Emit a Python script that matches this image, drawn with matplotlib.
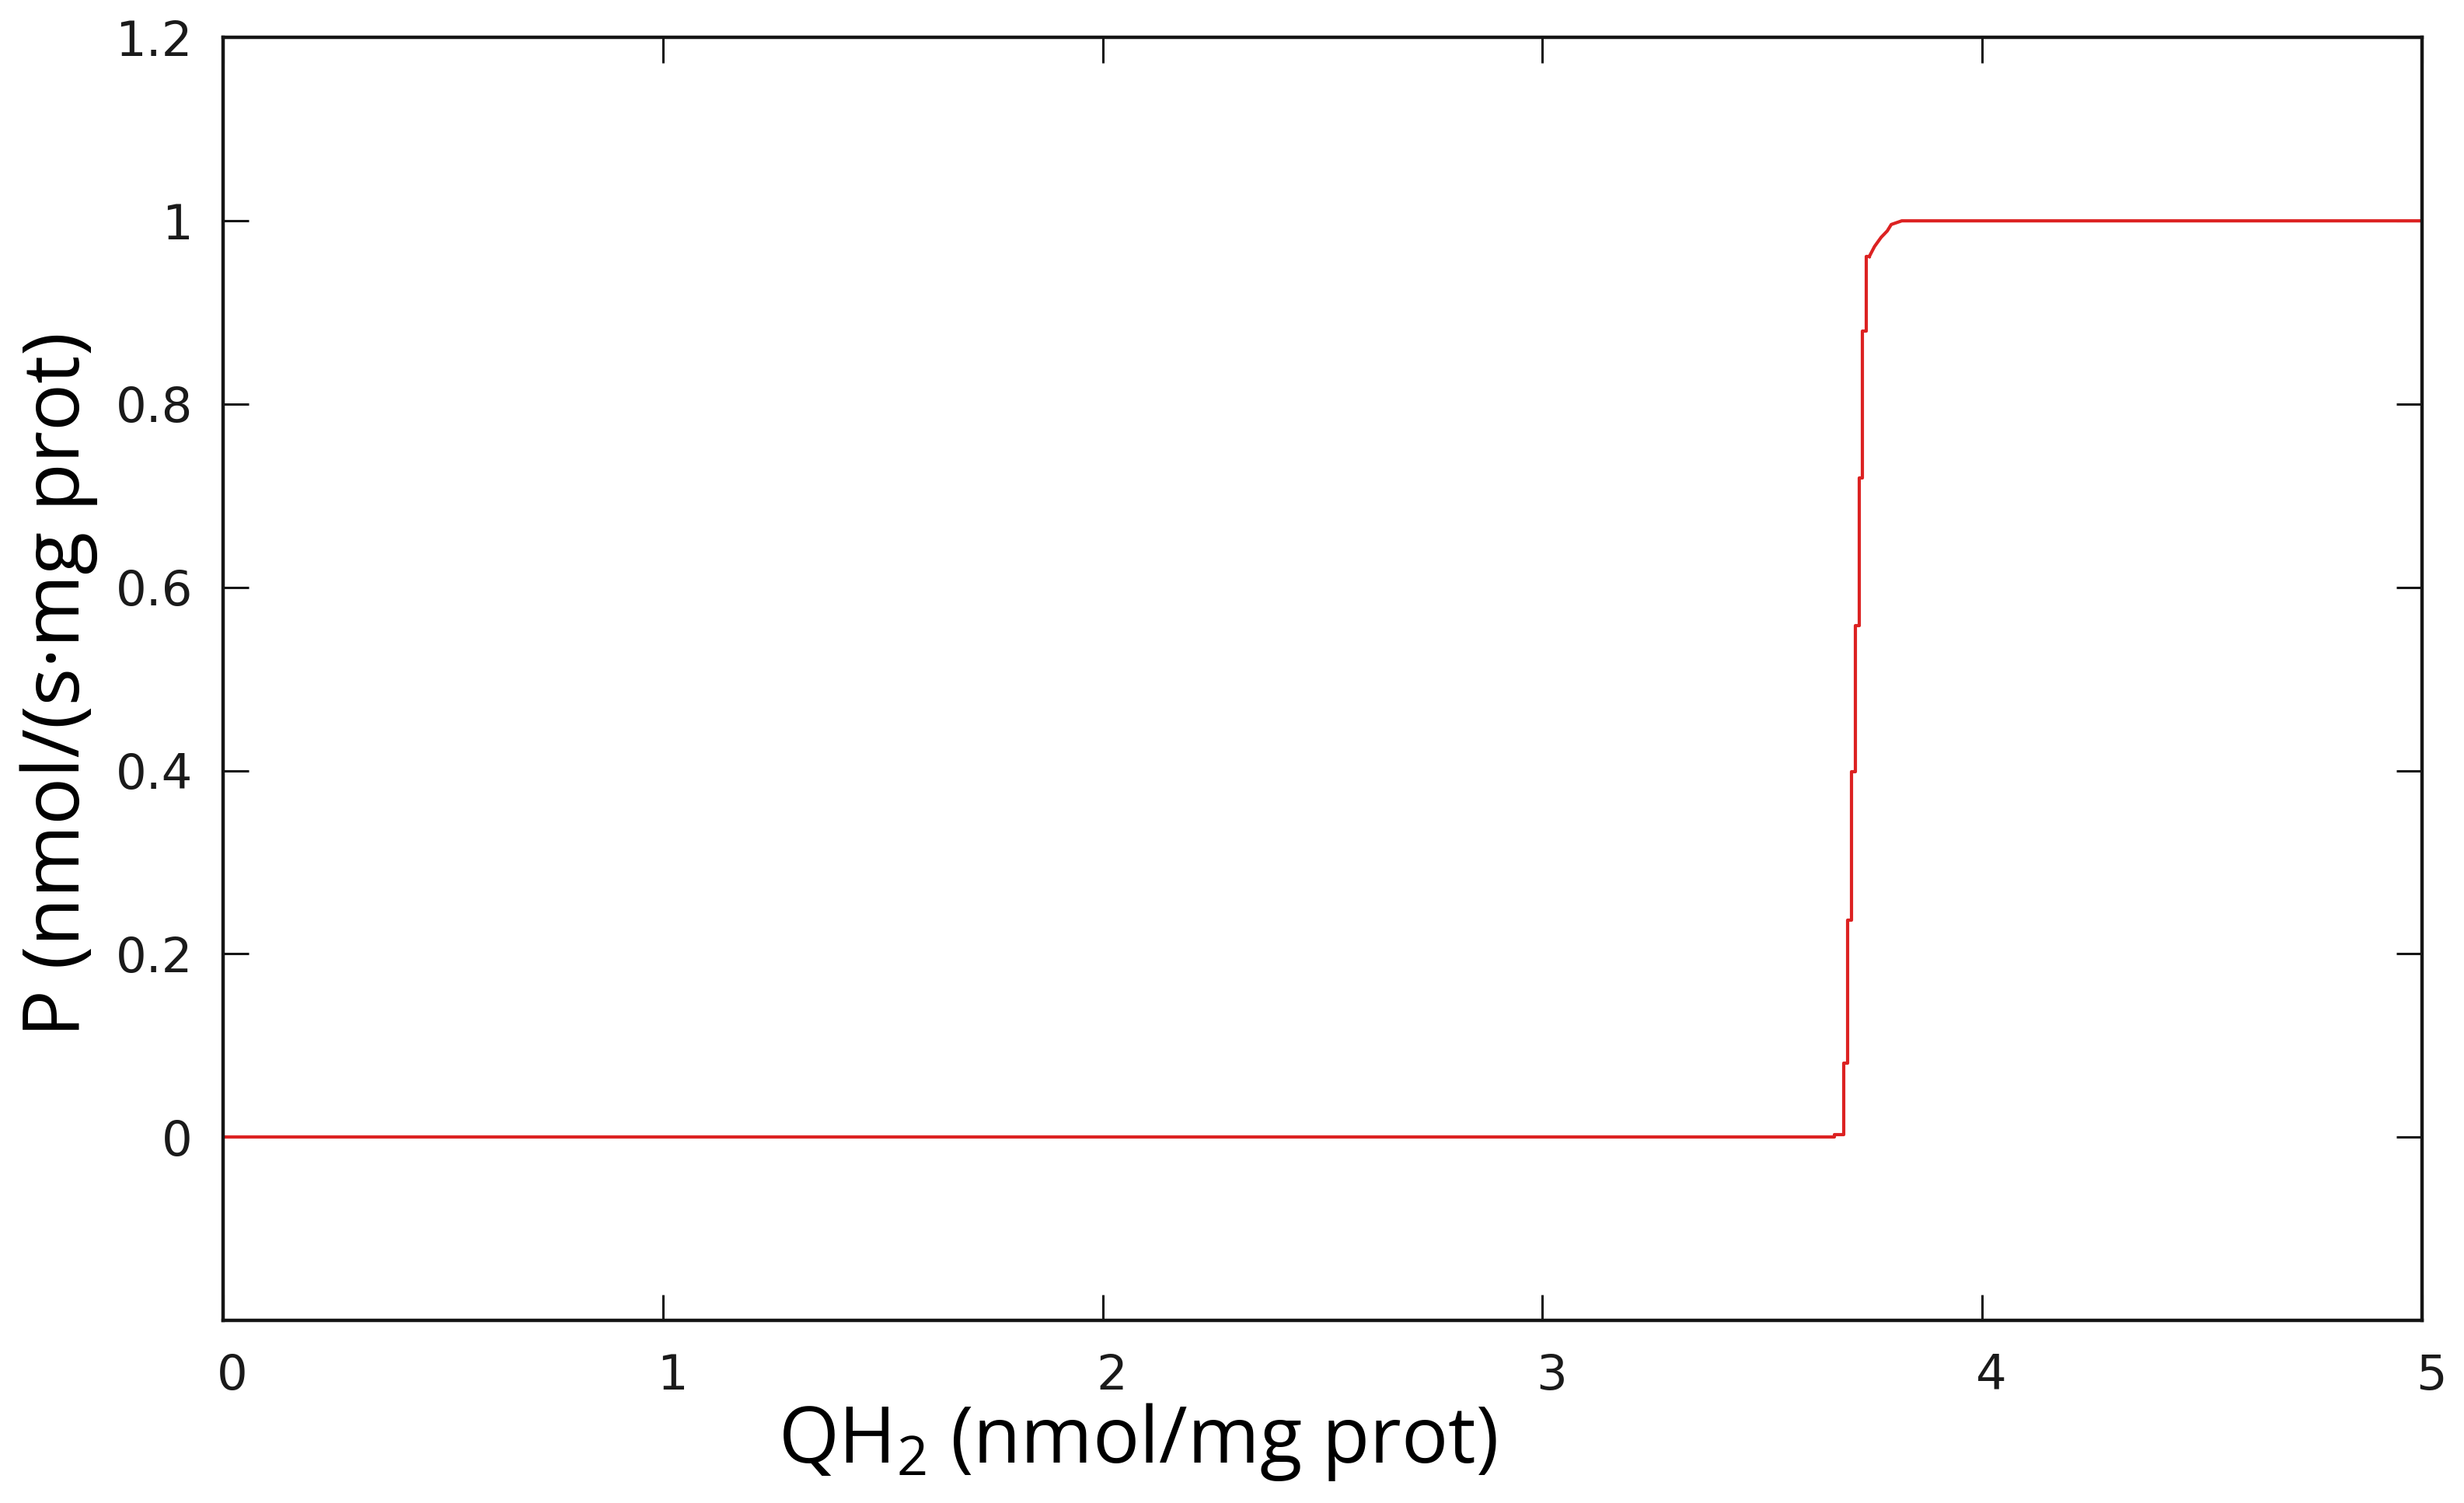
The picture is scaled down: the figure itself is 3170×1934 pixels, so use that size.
import matplotlib
matplotlib.use('Agg')
import matplotlib.pyplot as plt
import matplotlib.transforms as mtransforms

plt.rcParams['font.family'] = ['DejaVu Sans']
plt.rcParams['mathtext.fontset'] = 'custom'
plt.rcParams['mathtext.rm'] = 'Open Sans'
plt.rcParams['mathtext.it'] = 'Open Sans:italic'

# data (staircase rise near QH2 = 3.7)
qh2 = [0, 3.664, 3.685, 3.693, 3.702, 3.711, 3.720, 3.728, 3.737,
       3.743, 3.755, 3.770, 3.784, 3.793, 3.817, 5]
p_rate = [0, 0, 0.003, 0.081, 0.237, 0.399, 0.558, 0.719, 0.880,
          0.961, 0.972, 0.982, 0.989, 0.996, 1.0, 1.0]

xticks = [0, 1, 2, 3, 4, 5]
yticks = [0, 0.2, 0.4, 0.6, 0.8, 1.0, 1.2]
ytick_labels = ['0', '0.2', '0.4', '0.6', '0.8', '1', '1.2']

fig = plt.figure(figsize=(31.70, 19.34), dpi=100)
ax = fig.add_axes([0.0905, 0.1215, 0.8925, 0.8535])

# steep part drawn as a staircase, rounded knee at the top as a plain line
knee = 9
ax.plot(qh2[:knee + 1], p_rate[:knee + 1], color='#dc2222', linewidth=3.0,
        drawstyle='steps-pre')
ax.plot(qh2[knee:], p_rate[knee:], color='#dc2222', linewidth=3.0)

ax.set_xlim(0, 5)
ax.set_ylim(-0.2, 1.2)
ax.set_xticks(xticks)
ax.set_xticklabels([str(t) for t in xticks])
ax.set_yticks(yticks)
ax.set_yticklabels(ytick_labels)

for s in ax.spines.values():
    s.set_linewidth(3.2)
    s.set_color('#151515')

ax.tick_params(direction='in', length=24, width=2.2, color='#151515',
               top=True, right=True, labelsize=45, labelcolor='#1a1a1a')
ax.tick_params(axis='x', pad=30)
ax.tick_params(axis='y', pad=28)

# x tick labels sit a little to the right of their ticks in the original
shift = mtransforms.ScaledTranslation(0.12, 0, fig.dpi_scale_trans)
for lab in ax.get_xticklabels():
    lab.set_transform(lab.get_transform() + shift)

fig.text(0.4615, 0.027, r'$\mathregular{QH_2}$ (nmol/mg prot)',
         fontsize=72, family='Open Sans', ha='center', va='baseline')
fig.text(0.024, 0.545, 'P (nmol/(s·mg prot)', rotation=90,
         fontsize=73, family='Open Sans', ha='center', va='center')

fig.savefig('out.png', dpi=100, facecolor='white')
